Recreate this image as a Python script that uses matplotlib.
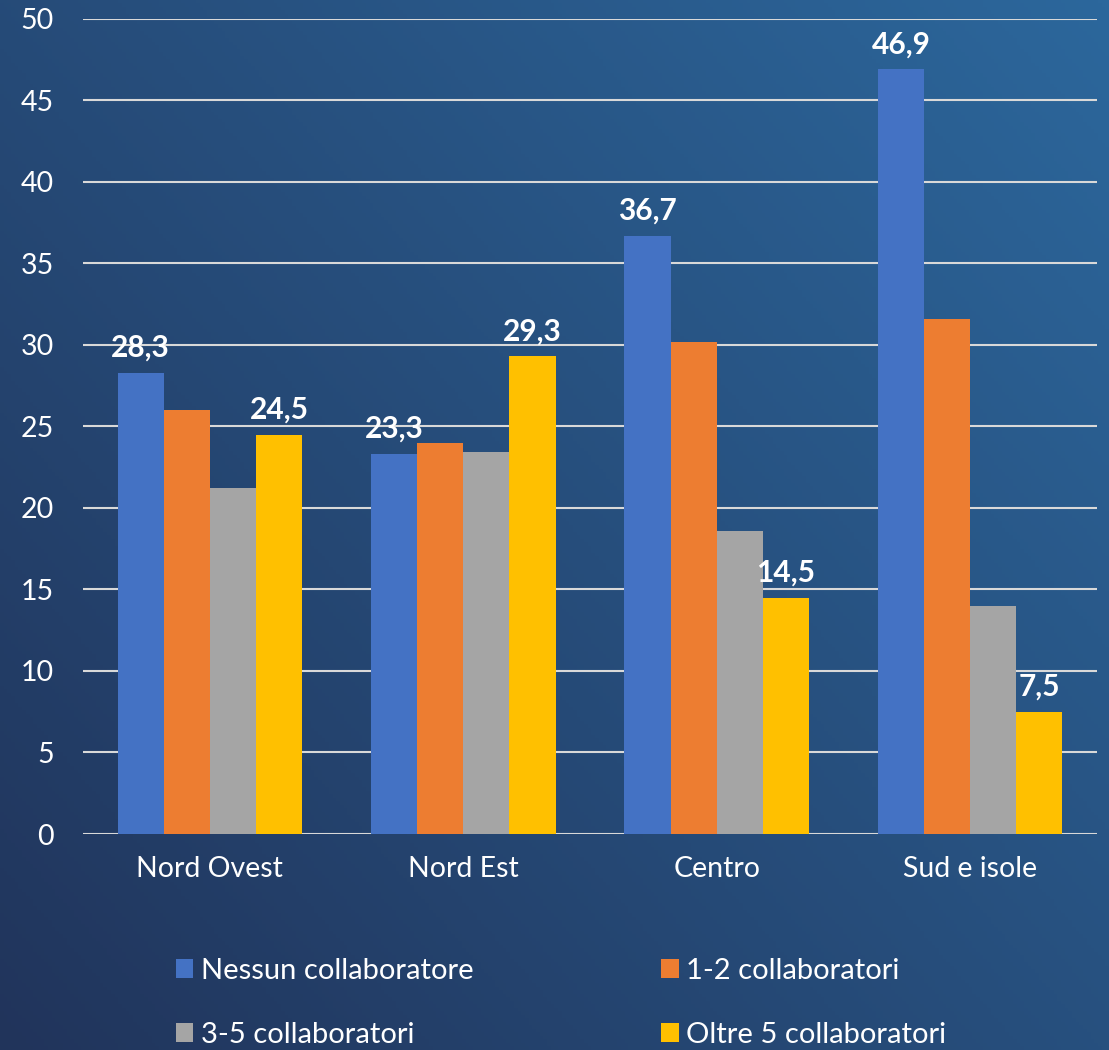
import numpy as np
import matplotlib.pyplot as plt
from matplotlib.colors import LinearSegmentedColormap

regions = ["Nord Ovest", "Nord Est", "Centro", "Sud e isole"]
series_names = ["Nessun collaboratore", "1-2 collaboratori",
                "3-5 collaboratori", "Oltre 5 collaboratori"]
nessun = [28.3, 23.3, 36.7, 46.9]
uno_due = [26.0, 24.0, 30.2, 31.6]
tre_cinque = [21.2, 23.4, 18.6, 14.0]
oltre_cinque = [24.5, 29.3, 14.5, 7.5]
colors = ["#4472c4", "#ed7d31", "#a5a5a5", "#ffc000"]
labelled = [True, False, False, True]

plt.rcParams["font.family"] = ["Lato", "DejaVu Sans"]

fig = plt.figure(figsize=(11.09, 10.5), dpi=100)

# diagonal blue gradient behind everything
bg = fig.add_axes([0, 0, 1, 1], zorder=-10)
gx, gy = np.meshgrid(np.linspace(0, 1, 300), np.linspace(0, 1, 300))
grad = (gx * 0.55 + (1 - gy) * 0.45)
cmap = LinearSegmentedColormap.from_list("bg", ["#21345b", "#2c679c"])
bg.imshow(grad, cmap=cmap, aspect="auto", extent=[0, 1, 0, 1], origin="upper")
bg.axis("off")

ax = fig.add_axes([0.075, 0.2057, 0.914, 0.7765])
ax.patch.set_alpha(0)

values = [nessun, uno_due, tre_cinque, oltre_cinque]
x = np.arange(len(regions))
width = 0.182
handles = []
for i, (name, vals, col) in enumerate(zip(series_names, values, colors)):
    pos = x + (i - 1.5) * width
    bars = ax.bar(pos, vals, width, color=col, label=name, zorder=3)
    handles.append(bars)
    if labelled[i]:
        for b, v in zip(bars, vals):
            ax.annotate(f"{v:.1f}".replace(".", ","),
                        (b.get_x() + b.get_width() / 2, v),
                        xytext=(0, 8), textcoords="offset points",
                        ha="center", va="bottom", color="white",
                        fontsize=21.5, fontweight="bold", zorder=4)

ax.set_xlim(-0.5, len(regions) - 0.5)
ax.set_ylim(0, 50)
ax.set_yticks(np.arange(0, 51, 5))
ax.set_xticks(x)
ax.set_xticklabels(regions)
ax.grid(axis="y", color="#d9d9d9", linewidth=1.5, zorder=0)
for s in ax.spines.values():
    s.set_visible(False)
ax.tick_params(length=0, colors="white", labelsize=20.5)
ax.tick_params(axis="x", pad=16)
ax.tick_params(axis="y", pad=21)

# legend filled row by row: Nessun, 1-2 / 3-5, Oltre
order = [0, 2, 1, 3]
leg = fig.legend([handles[k] for k in order], [series_names[k] for k in order],
                 loc="upper left", bbox_to_anchor=(0.148, 0.099), ncol=2,
                 frameon=False, fontsize=21, labelcolor="white",
                 handlelength=0.6, handleheight=0.6, handletextpad=0.25,
                 columnspacing=6.45, labelspacing=1.3, borderaxespad=0)

fig.savefig("out.png", dpi=100)
